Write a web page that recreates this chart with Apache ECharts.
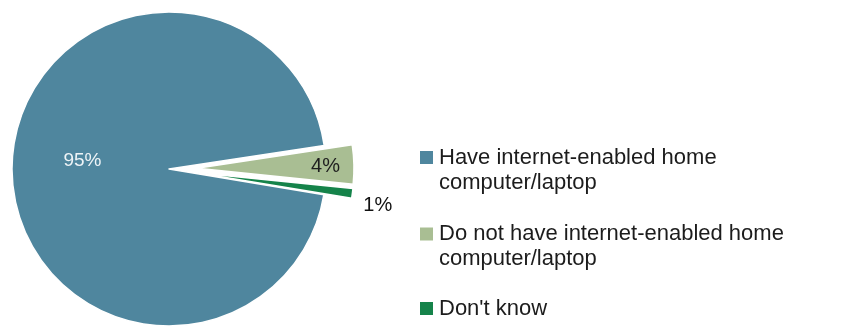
<!DOCTYPE html>
<html>
<head>
<meta charset="utf-8">
<script src="https://cdn.jsdelivr.net/npm/echarts@6/dist/echarts.min.js"></script>
<style>
  html, body { margin: 0; padding: 0; background: #ffffff; }
  #chart { width: 842px; height: 326px; }
</style>
</head>
<body>
<div id="chart"></div>
<script>
// Home computer access survey: share of respondents (percent)
const categories = [
  'Have internet-enabled home computer/laptop',
  'Do not have internet-enabled home computer/laptop',
  "Don't know"
];
const values = [95, 4, 1];
const valueLabels = ['95%', '4%', '1%'];
// Legend text broken over lines (leading blank line keeps the swatch on the first line)
const legendText = [
  '\nHave internet-enabled home\ncomputer/laptop',
  '\nDo not have internet-enabled home\ncomputer/laptop',
  "Don't know"
];
const colors = ['#4f869e', '#a9be93', '#15834a'];
const exploded = [false, true, true];

const FONT = '"Liberation Sans", Arial, sans-serif';

// label placement tweaks per slice (pixels)
const labelShift = [
  { dx: -5, dy: -8 },
  { dx: 47, dy: 0 },
  { dx: -6, dy: 11 }
];
const labelStyle = [
  { position: 'inside', color: '#eef4f7', fontSize: 19 },
  { position: 'inside', color: '#1e1e1e', fontSize: 20 },
  { position: 'outside', color: '#111111', fontSize: 20 }
];

const chart = echarts.init(document.getElementById('chart'), null, { renderer: 'canvas' });

const legendTops = [120, 196.5, 296];
const legends = categories.map((name, i) => ({
  orient: 'vertical',
  left: 418,
  top: legendTops[i],
  padding: 0,
  itemWidth: 15,
  itemHeight: 15,
  icon: 'rect',
  selectedMode: false,
  data: [name],
  formatter: (n) => legendText[categories.indexOf(n)],
  textStyle: {
    fontFamily: FONT,
    fontSize: 22,
    lineHeight: 25,
    color: '#1c1c1c'
  }
}));

chart.setOption({
  animation: false,
  color: colors,
  legend: legends,
  series: [{
    type: 'pie',
    center: [169, 169],
    radius: 157,
    startAngle: -9.4,
    clockwise: true,
    avoidLabelOverlap: false,
    selectedMode: 'multiple',
    selectedOffset: 28,
    itemStyle: { borderColor: '#ffffff', borderWidth: 1.5 },
    emphasis: { disabled: true },
    labelLine: { show: false, length: 6, length2: 6 },
    labelLayout: (params) => labelShift[params.dataIndex],
    data: categories.map((name, i) => ({
      name: name,
      value: values[i],
      selected: exploded[i],
      itemStyle: { color: colors[i] },
      label: Object.assign({
        show: true,
        fontFamily: FONT,
        formatter: valueLabels[i]
      }, labelStyle[i])
    }))
  }]
});
</script>
</body>
</html>
